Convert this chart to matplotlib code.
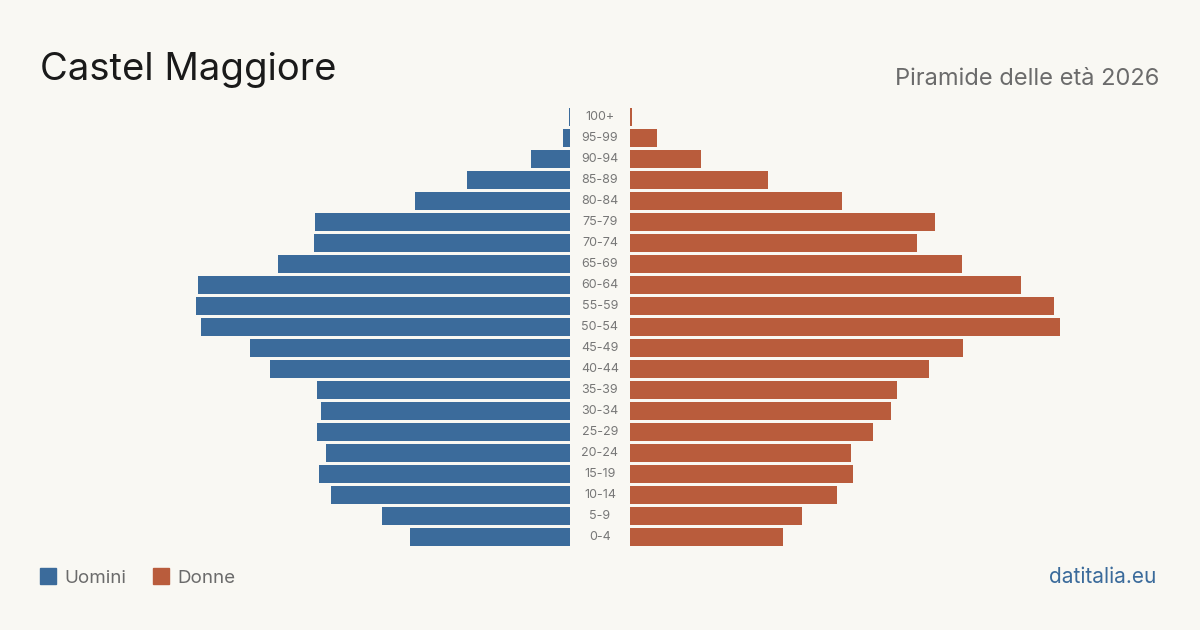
import matplotlib
matplotlib.use("Agg")
import matplotlib.pyplot as plt
from matplotlib.patches import Rectangle

# ──────────────────────────────────────────────
# Dati (dall'alto verso il basso)
# ──────────────────────────────────────────────
age_groups = ["100+", "95-99", "90-94", "85-89", "80-84", "75-79", "70-74",
              "65-69", "60-64", "55-59", "50-54", "45-49", "40-44", "35-39",
              "30-34", "25-29", "20-24", "15-19", "10-14", "5-9", "0-4"]
uomini = [1, 7, 39, 103, 155, 255, 256, 292, 372, 374, 369, 320, 300, 253,
          249, 253, 244, 251, 239, 188, 160]
donne = [2, 27, 71, 138, 212, 305, 287, 332, 391, 424, 430, 333, 299, 267,
         261, 243, 221, 223, 207, 172, 153]

BLUE = "#3b6b9b"
ORANGE = "#b95c3c"
BG = "#f9f8f3"
GRAY = "#6b6b6b"

plt.rcParams['font.family'] = ['Inter', 'DejaVu Sans']

W, H = 1200, 630
fig = plt.figure(figsize=(12, 6.3), dpi=100, facecolor=BG)

# assi: stessa scala per entrambi i lati
XMAX = 440
bottom = (H - 547.5) / H
height = 441 / H
ax_l = fig.add_axes([130 / W, bottom, 440 / W, height])
ax_r = fig.add_axes([630 / W, bottom, 440 / W, height])

n = len(age_groups)
ypos = [n - 1 - i for i in range(n)]

ax_l.barh(ypos, uomini, height=0.81, color=BLUE)
ax_r.barh(ypos, donne, height=0.81, color=ORANGE)

ax_l.set_xlim(XMAX, 0)
ax_r.set_xlim(0, XMAX)
for ax in (ax_l, ax_r):
    ax.set_ylim(-0.5, n - 0.5)
    ax.axis('off')
    ax.set_facecolor('none')

for y, lab in zip(ypos, age_groups):
    ax_r.text(-30, y, lab, ha='center', va='center', fontsize=9,
              color="#777777", clip_on=False)

# titoli
fig.text(40 / W, 1 - 80 / H, "Castel Maggiore", fontsize=27.5, color="#1a1a1a",
         ha='left', va='baseline')
fig.text(1159 / W, 1 - 85 / H, "Piramide delle età 2026", fontsize=17,
         color=GRAY, ha='right', va='baseline')

# legenda
fig.patches.append(Rectangle((40 / W, 1 - 584 / H), 16 / W, 16 / H,
                             transform=fig.transFigure, color=BLUE))
fig.text(64 / W, 1 - 583 / H, "Uomini", fontsize=13.5, color=GRAY,
         ha='left', va='baseline')
fig.patches.append(Rectangle((153 / W, 1 - 584 / H), 16 / W, 16 / H,
                             transform=fig.transFigure, color=ORANGE))
fig.text(177 / W, 1 - 583 / H, "Donne", fontsize=13.5, color=GRAY,
         ha='left', va='baseline')

fig.text(1156 / W, 1 - 583 / H, "datitalia.eu", fontsize=15, color=BLUE,
         ha='right', va='baseline')

fig.savefig("out.png", dpi=100, facecolor=BG)
plt.close()
